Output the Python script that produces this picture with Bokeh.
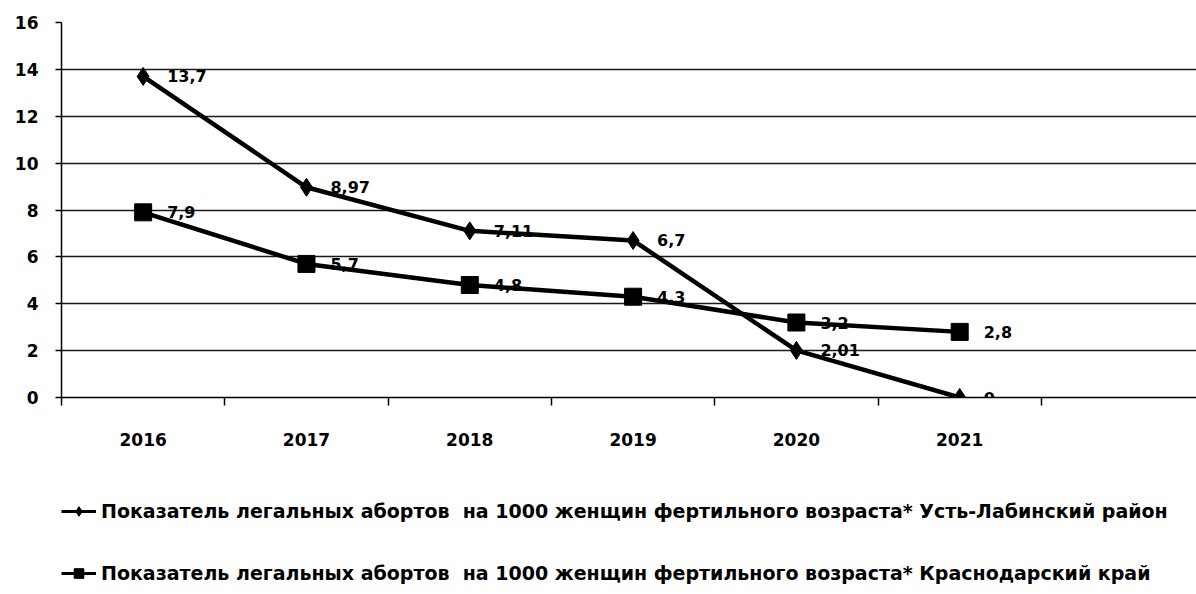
from bokeh.plotting import figure
from bokeh.models import Range1d, FixedTicker, Legend, LegendItem, ColumnDataSource, LinearAxis
from bokeh.layouts import column
from bokeh.embed import file_html
from bokeh.resources import INLINE
from bokeh.core.properties import value

years = ["2016", "2017", "2018", "2019", "2020", "2021"]
ust_lab = [13.7, 8.97, 7.11, 6.7, 2.01, 0]
krasnodar = [7.9, 5.7, 4.8, 4.3, 3.2, 2.8]
ust_labels = ["13,7", "8,97", "7,11", "6,7", "2,01", "0"]
kras_labels = ["7,9", "5,7", "4,8", "4,3", "3,2", "2,8"]
y_ticks = [0, 2, 4, 6, 8, 10, 12, 14, 16]
name_ust = "Показатель легальных абортов  на 1000 женщин фертильного возраста* Усть-Лабинский район"
name_kras = "Показатель легальных абортов  на 1000 женщин фертильного возраста* Краснодарский край"

FONT = "DejaVu Sans"
xs = [i + 0.5 for i in range(len(years))]

p = figure(width=1196, height=476, output_backend="svg", toolbar_location=None,
           x_range=Range1d(0, 6.95), y_range=Range1d(0, 16),
           x_axis_location=None, y_axis_location=None,
           min_border_left=61, min_border_right=0, min_border_top=22, min_border_bottom=79)
p.outline_line_color = None
p.background_fill_color = "white"

# axes
xaxis = LinearAxis(ticker=FixedTicker(ticks=xs, minor_ticks=list(range(0, 8))))
xaxis.major_label_overrides = {x: y for x, y in zip(xs, years)}
xaxis.major_tick_line_color = None
xaxis.major_tick_out = 0
xaxis.major_tick_in = 0
xaxis.minor_tick_out = 8
xaxis.minor_tick_in = 0
xaxis.minor_tick_line_color = "black"
xaxis.minor_tick_line_width = 1.5
xaxis.axis_line_color = "black"
xaxis.axis_line_width = 1.5
xaxis.major_label_standoff = 27
xaxis.major_label_text_font = FONT
xaxis.major_label_text_font_style = "bold"
xaxis.major_label_text_font_size = "17px"
xaxis.major_label_text_color = "black"
p.add_layout(xaxis, "below")

yaxis = LinearAxis(ticker=FixedTicker(ticks=y_ticks, minor_ticks=[]))
yaxis.major_tick_out = 6
yaxis.major_tick_in = 0
yaxis.major_tick_line_color = "black"
yaxis.major_tick_line_width = 1.5
yaxis.axis_line_color = "black"
yaxis.axis_line_width = 1.5
yaxis.major_label_standoff = 17
yaxis.major_label_text_font = FONT
yaxis.major_label_text_font_style = "bold"
yaxis.major_label_text_font_size = "17px"
yaxis.major_label_text_color = "black"
p.add_layout(yaxis, "left")

p.xgrid.visible = False
p.ygrid.ticker = FixedTicker(ticks=y_ticks)
p.ygrid.grid_line_color = "black"
p.ygrid.grid_line_width = 1.7
p.ygrid.grid_line_alpha = 0.9

src1 = ColumnDataSource(dict(x=xs, y=ust_lab, t=ust_labels))
src2 = ColumnDataSource(dict(x=xs, y=krasnodar, t=kras_labels))

LINE_W = 4.5
p.line("x", "y", source=src1, line_color="black", line_width=LINE_W)
p.scatter("x", "y", source=src1, marker="diamond", size=18, fill_color="black", line_color="black")
p.line("x", "y", source=src2, line_color="black", line_width=LINE_W)
p.scatter("x", "y", source=src2, marker="square", size=17, fill_color="black", line_color="black")

for src in (src1, src2):
    p.text("x", "y", text="t", source=src, x_offset=24, y_offset=0,
           text_align="left", text_baseline="middle",
           text_font=value(FONT), text_font_style="bold", text_font_size="16px",
           text_color="black")

# legend panel: a second figure below the chart whose renderers share the series'
# styles; its ranges keep the series themselves out of view so only the legend shows
p2 = figure(width=1196, height=110, output_backend="svg", toolbar_location=None,
            x_range=Range1d(100, 101), y_range=Range1d(100, 101),
            x_axis_location=None, y_axis_location=None,
            min_border_left=61, min_border_right=0, min_border_top=0, min_border_bottom=0)
p2.outline_line_color = None
p2.xgrid.visible = False
p2.ygrid.visible = False
g1 = p2.line("x", "y", source=src1, line_color="black", line_width=3)
s1 = p2.scatter("x", "y", source=src1, marker="diamond", size=14, fill_color="black", line_color="black")
g2 = p2.line("x", "y", source=src2, line_color="black", line_width=3)
s2 = p2.scatter("x", "y", source=src2, marker="square", size=14, fill_color="black", line_color="black")

legend = Legend(items=[LegendItem(label=name_ust, renderers=[g1, s1]),
                       LegendItem(label=name_kras, renderers=[g2, s2])],
                location=(0, 1), orientation="vertical",
                glyph_width=35, glyph_height=24, label_height=24,
                label_standoff=5, spacing=38, padding=0, margin=0,
                border_line_color=None, background_fill_alpha=0,
                label_text_font=FONT, label_text_font_style="bold",
                label_text_font_size="19px", label_text_color="black")
p2.add_layout(legend, "center")

open("out.html", "w").write(file_html(column(p, p2, spacing=0), INLINE))
